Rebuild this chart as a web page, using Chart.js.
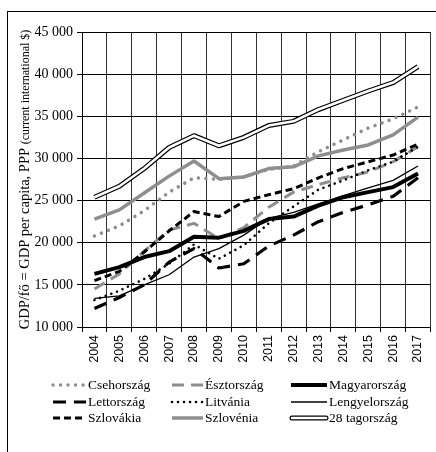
<!DOCTYPE html>
<html>
<head>
<meta charset="utf-8">
<script src="https://cdn.jsdelivr.net/npm/chart.js"></script>
<style>
  html, body { margin: 0; padding: 0; background: #fff; overflow: hidden; }
  canvas { display: block; }
</style>
</head>
<body>
<canvas id="gdpChart" width="436" height="452"></canvas>
<script>
const years = ["2004", "2005", "2006", "2007", "2008", "2009", "2010", "2011", "2012", "2013", "2014", "2015", "2016", "2017"];
const yTicks = [10000, 15000, 20000, 25000, 30000, 35000, 40000, 45000];

const cseh    = [20800, 22000, 23800, 26000, 27700, 27500, 27800, 28700, 29100, 30800, 32200, 33600, 34700, 36100];
const eszt    = [14500, 16300, 19000, 21500, 22300, 20500, 21800, 24200, 26000, 26900, 27700, 28400, 29600, 31400];
const magyar  = [16300, 17100, 18300, 19000, 20700, 20600, 21400, 22800, 23100, 24400, 25400, 26000, 26600, 28200];
const lett    = [12200, 13500, 15000, 17700, 19300, 17000, 17500, 19600, 20900, 22500, 23600, 24500, 25500, 27700];
const litv    = [13200, 14300, 15700, 17500, 19800, 18100, 19700, 22300, 24300, 26300, 27400, 28600, 29600, 31400];
const lengyel = [13400, 13700, 15000, 16200, 18300, 19300, 20900, 22900, 23600, 24600, 25600, 26500, 27400, 29100];
const szlovak = [15500, 16600, 18900, 21400, 23700, 23100, 24900, 25700, 26400, 27700, 28800, 29600, 30400, 31700];
const szloven = [22800, 23900, 25900, 27900, 29700, 27600, 27800, 28800, 29000, 30300, 31000, 31600, 32800, 34900];
const eu28    = [25400, 26700, 28800, 31300, 32700, 31500, 32500, 33900, 34400, 35800, 36900, 38000, 39000, 40900];

const titleMain = "GDP/fő = GDP per capita, PPP ";
const titleSub = "(current international $)";

const GRAY = "#8e8e8e";
const SERIF = "'Liberation Serif', 'DejaVu Serif', serif";

function line(label, data, opts) {
  return Object.assign({
    label, data,
    borderColor: "#000", borderWidth: 2, borderDash: [],
    borderCapStyle: "butt", borderJoinStyle: "round",
    pointRadius: 0, pointHoverRadius: 0, fill: false, tension: 0
  }, opts);
}

const datasets = [
  line("Csehország", cseh, { borderColor: GRAY, borderWidth: 3.5, borderDash: [0.01, 7.5], borderCapStyle: "round", order: 8 }),
  line("Észtország", eszt, { borderColor: GRAY, borderWidth: 3, borderDash: [12, 7], order: 7 }),
  line("Magyarország", magyar, { borderWidth: 4, order: 2 }),
  line("Lettország", lett, { borderWidth: 3.2, borderDash: [13, 8], order: 5 }),
  line("Litvánia", litv, { borderWidth: 2.6, borderDash: [0.01, 6], borderCapStyle: "round", order: 4 }),
  line("Lengyelország", lengyel, { borderWidth: 1.3, order: 3 }),
  line("Szlovákia", szlovak, { borderWidth: 3, borderDash: [7, 4], order: 6 }),
  line("Szlovénia", szloven, { borderColor: GRAY, borderWidth: 3.5, order: 6.5 }),
  line("28 tagország", eu28, { borderWidth: 5, order: 1 }),
  line("", eu28, { borderColor: "#fff", borderWidth: 2.6, order: 0, skipLegend: true })
];

const legendCols = [52, 171, 290];
const legendText = [88, 205, 329];
const legendRows = [385, 402, 418];

const decorations = {
  id: "decorations",
  beforeDraw(chart) {
    const ctx = chart.ctx;
    ctx.save();
    ctx.fillStyle = "#fff";
    ctx.fillRect(0, 0, chart.width, chart.height);
    ctx.strokeStyle = "#000";
    ctx.lineWidth = 1;
    ctx.strokeRect(7.5, 11.5, 460, 480);
    ctx.restore();
  },
  afterDraw(chart) {
    const ctx = chart.ctx;
    const a = chart.chartArea;

    // y title, two font sizes
    ctx.save();
    ctx.translate(24, (a.top + a.bottom) / 2);
    ctx.rotate(-Math.PI / 2);
    ctx.fillStyle = "#000";
    ctx.textBaseline = "alphabetic";
    ctx.textAlign = "left";
    ctx.font = "14.5px " + SERIF;
    const w1 = ctx.measureText(titleMain).width;
    ctx.font = "12px " + SERIF;
    const w2 = ctx.measureText(titleSub).width;
    const x0 = -(w1 + w2) / 2;
    ctx.font = "14.5px " + SERIF;
    ctx.fillText(titleMain, x0, 5);
    ctx.font = "12px " + SERIF;
    ctx.fillText(titleSub, x0 + w1, 5);
    ctx.restore();

    // legend, 3 x 3
    const items = chart.data.datasets.filter((d) => !d.skipLegend);
    items.forEach((d, i) => {
      const col = i % 3, row = Math.floor(i / 3);
      const y = legendRows[row];
      const xs = legendCols[col], xt = legendText[col];
      ctx.save();
      ctx.lineCap = d.borderCapStyle;
      if (d.label === "28 tagország") {
        ctx.lineCap = "round";
        ctx.strokeStyle = "#000";
        ctx.lineWidth = 5;
        ctx.beginPath(); ctx.moveTo(xs + 2, y); ctx.lineTo(xt - 3, y); ctx.stroke();
        ctx.strokeStyle = "#fff";
        ctx.lineWidth = 2.6;
        ctx.beginPath(); ctx.moveTo(xs + 2, y); ctx.lineTo(xt - 3, y); ctx.stroke();
      } else {
        ctx.strokeStyle = d.borderColor;
        ctx.lineWidth = d.borderWidth;
        ctx.setLineDash(d.borderDash);
        ctx.beginPath(); ctx.moveTo(xs + 1, y); ctx.lineTo(xt - 2, y); ctx.stroke();
      }
      ctx.restore();
      ctx.save();
      ctx.fillStyle = "#000";
      ctx.font = "13.5px " + SERIF;
      ctx.textBaseline = "middle";
      ctx.textAlign = "left";
      ctx.fillText(d.label, xt, y);
      ctx.restore();
    });
  }
};

function groupDigits(v) {
  return String(v).replace(/\B(?=(\d{3})+(?!\d))/g, " ");
}

new Chart(document.getElementById("gdpChart"), {
  type: "line",
  data: { labels: years, datasets },
  options: {
    responsive: false,
    animation: false,
    devicePixelRatio: 1,
    layout: { padding: { top: 32, bottom: 90, left: 0, right: 0 } },
    plugins: { legend: { display: false }, tooltip: { enabled: false } },
    scales: {
      x: {
        offset: true,
        grid: { offset: true, color: "#333", lineWidth: 1, tickLength: 5, tickColor: "#000" },
        border: { color: "#000", width: 1 },
        ticks: {
          minRotation: 90, maxRotation: 90, padding: 3, autoSkip: false,
          color: "#000", font: { family: "'Liberation Sans', Arial, sans-serif", size: 12.5 }
        },
        afterFit: (s) => { s.height = 35; }
      },
      y: {
        min: yTicks[0],
        max: yTicks[yTicks.length - 1],
        afterBuildTicks: (s) => { s.ticks = yTicks.map((v) => ({ value: v })); },
        grid: { color: "#000", lineWidth: 1, tickLength: 5, tickColor: "#000" },
        border: { color: "#000", width: 1 },
        ticks: {
          padding: 4, color: "#000",
          font: { family: SERIF, size: 14 },
          callback: (v) => groupDigits(v)
        },
        afterFit: (s) => { s.width = 82; }
      }
    }
  },
  plugins: [decorations]
});
</script>
</body>
</html>
